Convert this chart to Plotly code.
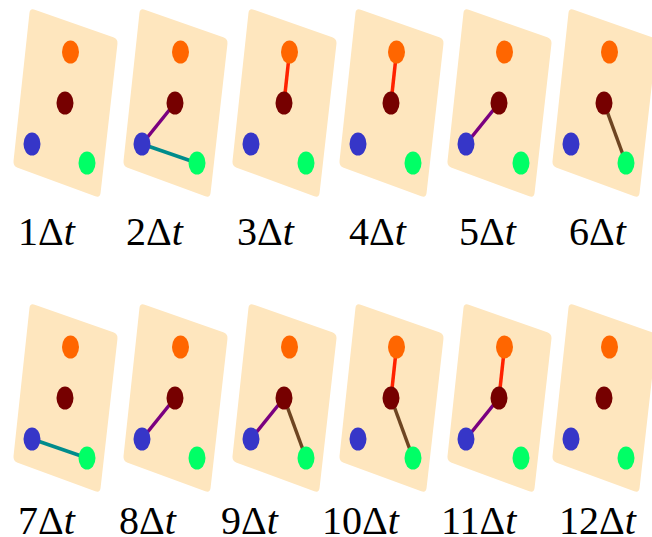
import plotly.graph_objects as go

# ---- data ----
steps = [1, 2, 3, 4, 5, 6, 7, 8, 9, 10, 11, 12]
step_labels = [f"{s}Δ<i>t</i>" for s in steps]
nodes = ["orange", "darkred", "blue", "green"]
# edges active at each time step (pairs of node names)
edges = [
    [],
    [("darkred", "blue"), ("blue", "green")],
    [("orange", "darkred")],
    [("orange", "darkred")],
    [("darkred", "blue")],
    [("darkred", "green")],
    [("blue", "green")],
    [("darkred", "blue")],
    [("darkred", "blue"), ("darkred", "green")],
    [("orange", "darkred"), ("darkred", "green")],
    [("orange", "darkred"), ("darkred", "blue")],
    [],
]

# ---- layout / style ----
W, H = 652, 537
node_pos = {"orange": (70.5, 52), "darkred": (65, 103), "blue": (32, 144), "green": (87, 163)}
node_col = {"orange": "#FF6600", "darkred": "#760000", "blue": "#3636C8", "green": "#00FF66"}
edge_col = {
    frozenset(("orange", "darkred")): "#FF2200",
    frozenset(("darkred", "blue")): "#7A0080",
    frozenset(("blue", "green")): "#008C8C",
    frozenset(("darkred", "green")): "#6E4522",
}
panel_dx = [0, 110, 219, 326, 434, 539]
row_dy = [0, 295]
label_cx = [[47, 155, 266, 378, 488, 598], [47, 148, 250, 361, 479, 598]]
label_cy = [231, 520]
corners = [(30, 8), (118, 39), (100, 198), (13, 166)]
panel_fill = "#FEE6BE"
NW, NH = 17, 23


def rounded_path(pts, r=5):
    n = len(pts)
    segs = []
    for i in range(n):
        p0 = pts[i - 1]
        p1 = pts[i]
        p2 = pts[(i + 1) % n]

        def towards(a, b, d):
            dx, dy = b[0] - a[0], b[1] - a[1]
            L = (dx * dx + dy * dy) ** 0.5
            return (a[0] + dx / L * d, a[1] + dy / L * d)

        a = towards(p1, p0, r)
        b = towards(p1, p2, r)
        segs.append((a, p1, b))
    d = f"M {segs[0][2][0]:.2f},{segs[0][2][1]:.2f}"
    for i in range(1, n + 1):
        a, c, b = segs[i % n]
        d += f" L {a[0]:.2f},{a[1]:.2f} Q {c[0]:.2f},{c[1]:.2f} {b[0]:.2f},{b[1]:.2f}"
    return d + " Z"


fig = go.Figure()
shapes = []
annotations = []
for idx, s in enumerate(steps):
    row, col = divmod(idx, 6)
    dx, dy = panel_dx[col], row_dy[row]
    pts = [(x + dx, y + dy) for x, y in corners]
    shapes.append(dict(type="path", path=rounded_path(pts), xref="x", yref="y",
                       fillcolor=panel_fill, line=dict(width=0), layer="below"))
    for a, b in edges[idx]:
        xa, ya = node_pos[a]
        xb, yb = node_pos[b]
        fig.add_trace(go.Scatter(x=[xa + dx, xb + dx], y=[ya + dy, yb + dy], mode="lines",
                                 line=dict(color=edge_col[frozenset((a, b))], width=3.5),
                                 hoverinfo="skip", showlegend=False))
    for nname in nodes:
        x, y = node_pos[nname]
        shapes.append(dict(type="circle", xref="x", yref="y",
                           x0=x + dx - NW / 2, x1=x + dx + NW / 2,
                           y0=y + dy - NH / 2, y1=y + dy + NH / 2,
                           fillcolor=node_col[nname], line=dict(width=0), layer="above"))
    annotations.append(dict(x=label_cx[row][col], y=label_cy[row], xref="x", yref="y",
                            text=step_labels[idx], showarrow=False,
                            font=dict(family="Liberation Serif", size=40, color="black"),
                            xanchor="center", yanchor="middle"))

fig.update_layout(
    width=W, height=H, margin=dict(l=0, r=0, t=0, b=0),
    paper_bgcolor="white", plot_bgcolor="white",
    xaxis=dict(range=[0, W], visible=False, fixedrange=True),
    yaxis=dict(range=[H, 0], visible=False, fixedrange=True),
    shapes=shapes, annotations=annotations, showlegend=False,
)
fig.write_html("out.html", config={"displayModeBar": False},
               post_script="document.body.style.margin='0';document.body.style.overflow='hidden';")
